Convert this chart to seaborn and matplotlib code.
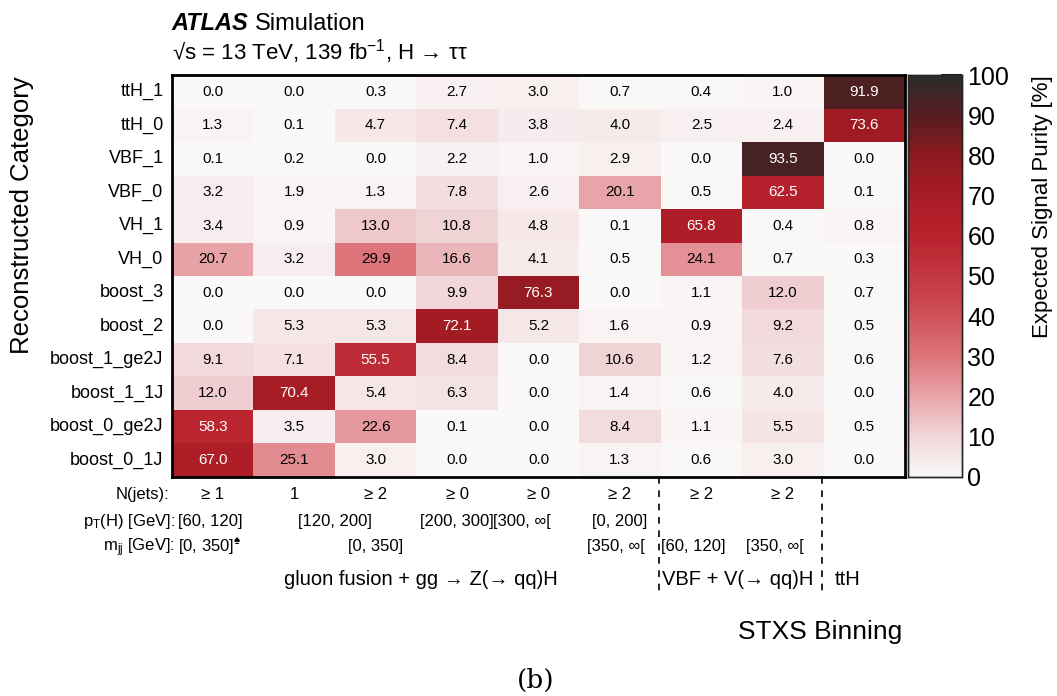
import numpy as np
import pandas as pd
import matplotlib
matplotlib.use("Agg")
import matplotlib.pyplot as plt
import seaborn as sns
from matplotlib.colors import LinearSegmentedColormap

# categories / bins
reco_cats = ["ttH_1", "ttH_0", "VBF_1", "VBF_0", "VH_1", "VH_0", "boost_3", "boost_2",
             "boost_1_ge2J", "boost_1_1J", "boost_0_ge2J", "boost_0_1J"]
stxs_bins = ["b1", "b2", "b3", "b4", "b5", "b6", "b7", "b8", "b9"]

purity = [
    [0.0, 0.0, 0.3, 2.7, 3.0, 0.7, 0.4, 1.0, 91.9],
    [1.3, 0.1, 4.7, 7.4, 3.8, 4.0, 2.5, 2.4, 73.6],
    [0.1, 0.2, 0.0, 2.2, 1.0, 2.9, 0.0, 93.5, 0.0],
    [3.2, 1.9, 1.3, 7.8, 2.6, 20.1, 0.5, 62.5, 0.1],
    [3.4, 0.9, 13.0, 10.8, 4.8, 0.1, 65.8, 0.4, 0.8],
    [20.7, 3.2, 29.9, 16.6, 4.1, 0.5, 24.1, 0.7, 0.3],
    [0.0, 0.0, 0.0, 9.9, 76.3, 0.0, 1.1, 12.0, 0.7],
    [0.0, 5.3, 5.3, 72.1, 5.2, 1.6, 0.9, 9.2, 0.5],
    [9.1, 7.1, 55.5, 8.4, 0.0, 10.6, 1.2, 7.6, 0.6],
    [12.0, 70.4, 5.4, 6.3, 0.0, 1.4, 0.6, 4.0, 0.0],
    [58.3, 3.5, 22.6, 0.1, 0.0, 8.4, 1.1, 5.5, 0.5],
    [67.0, 25.1, 3.0, 0.0, 0.0, 1.3, 0.6, 3.0, 0.0],
]

njets = ["\u2265 1", "1", "\u2265 2", "\u2265 0", "\u2265 0", "\u2265 2", "\u2265 2", "\u2265 2", ""]

df = pd.DataFrame(purity, index=reco_cats, columns=stxs_bins)

sns.set_style("white")
plt.rcParams["font.family"] = ["Liberation Sans", "DejaVu Sans"]
plt.rcParams["mathtext.fontset"] = "custom"
plt.rcParams["mathtext.rm"] = "Liberation Sans"
plt.rcParams["mathtext.it"] = "Liberation Sans:italic"
for k in ["text.color", "axes.labelcolor", "xtick.color", "ytick.color"]:
    plt.rcParams[k] = "black"

cmap = LinearSegmentedColormap.from_list("atlas_red", [
    (0.0, "#faf8f8"), (0.1, "#f1d6d8"), (0.2, "#e8a5a9"), (0.3, "#dc7379"),
    (0.45, "#ca434b"), (0.6, "#b8222d"), (0.7, "#a91c25"), (0.8, "#8c1a20"),
    (0.9, "#561d20"), (1.0, "#2b2b2b")])

fig = plt.figure(figsize=(10.57, 6.96), dpi=100)
ax = fig.add_axes([0.1627, 0.3147, 0.6935, 0.5775])
cax = fig.add_axes([0.859, 0.3147, 0.051, 0.5775])

sns.heatmap(df, ax=ax, cbar_ax=cax, cmap=cmap, vmin=0, vmax=100,
            annot=True, fmt=".1f", annot_kws={"fontsize": 11})

for t in ax.texts:
    v = float(t.get_text())
    t.set_color("white" if v > 50 else "black")

ax.set_xlabel("")
ax.set_ylabel("")
ax.set_xticks([])
ax.set_yticks(np.arange(len(reco_cats)) + 0.5)
ax.set_yticklabels(reco_cats, rotation=0, fontsize=13)
ax.tick_params(axis="y", length=0, pad=6)
ax.set_xticks(np.arange(1, len(stxs_bins)), minor=True)
ax.set_yticks(np.arange(1, len(reco_cats)), minor=True)
ax.tick_params(which="minor", direction="in", length=7, width=1.5,
               top=True, bottom=True, left=True, right=True, color="black")
for s in ax.spines.values():
    s.set_visible(True)
    s.set_linewidth(2)
    s.set_color("black")

cax.tick_params(direction="in", length=15, width=1.5, labelsize=18, pad=4, color="#222222")
cax.set_yticks(np.arange(0, 101, 10))
for s in cax.spines.values():
    s.set_visible(True)
    s.set_linewidth(1)
fig.text(0.986, 0.892, "Expected Signal Purity [%]", rotation=90, ha="center", va="top", fontsize=16)

# header
atlas = fig.text(0.1627, 0.957, "ATLAS", fontsize=17, fontweight="bold", fontstyle="italic", va="baseline")
fig.canvas.draw()
bb = atlas.get_window_extent().transformed(fig.transFigure.inverted())
fig.text(bb.x1 + 0.006, 0.957, "Simulation", fontsize=17, va="baseline")
fig.text(0.1627, 0.914, "\u221as = 13 TeV, 139 fb$^{\\mathrm{-1}}$, H \u2192 \u03c4\u03c4",
         fontsize=16, va="baseline")

fig.text(0.021, 0.691, "Reconstructed Category", rotation=90, ha="center", va="center", fontsize=18.5)

# bottom annotations (baselines in axes fraction)
trans = ax.get_xaxis_transform()
fs = 12
y_nj, y_pt, y_mjj, y_proc = -0.055, -0.122, -0.184, -0.27
ax.text(-0.03, y_nj, "N(jets):", transform=trans, ha="right", va="baseline", fontsize=fs)
for i, n in enumerate(njets):
    ax.text(i + 0.5, y_nj, n, transform=trans, ha="center", va="baseline", fontsize=fs)

ax.text(0.04, y_pt, r"p$_{\mathrm{T}}$(H) [GeV]:", transform=trans, ha="right", va="baseline", fontsize=fs)
pt_labels = [(0.08, "[60, 120]", "left"), (2.0, "[120, 200]", "center"), (3.5, "[200, 300]", "center"),
             (4.3, "[300, \u221e[", "center"), (5.5, "[0, 200]", "center")]
for x, s, ha in pt_labels:
    ax.text(x, y_pt, s, transform=trans, ha=ha, va="baseline", fontsize=fs)

ax.text(0.04, y_mjj, r"m$_{\mathrm{jj}}$ [GeV]:", transform=trans, ha="right", va="baseline", fontsize=fs)
mjj_labels = [(0.08, "[0, 350]$^{\u2660}$", "left"), (2.5, "[0, 350]", "center"),
              (5.45, "[350, \u221e[", "center"), (6.4, "[60, 120]", "center"), (7.4, "[350, \u221e[", "center")]
for x, s, ha in mjj_labels:
    ax.text(x, y_mjj, s, transform=trans, ha=ha, va="baseline", fontsize=fs)

proc_labels = [(3.05, "gluon fusion + gg \u2192 Z(\u2192 qq)H"),
               (6.95, "VBF + V(\u2192 qq)H"), (8.3, "ttH")]
for x, s in proc_labels:
    ax.text(x, y_proc, s, transform=trans, ha="center", va="baseline", fontsize=14.5)

for xb in [6, 8]:
    ax.plot([xb - 0.02, xb - 0.02], [0, -0.285], transform=trans, clip_on=False,
            color="black", linestyle=(0, (4, 4)), linewidth=1.2)

fig.text(0.854, 0.082, "STXS Binning", ha="right", va="baseline", fontsize=19)
fig.text(0.507, 0.012, "(b)", ha="center", va="baseline", fontsize=19, family="DejaVu Serif")

fig.savefig("out.png", dpi=100)
